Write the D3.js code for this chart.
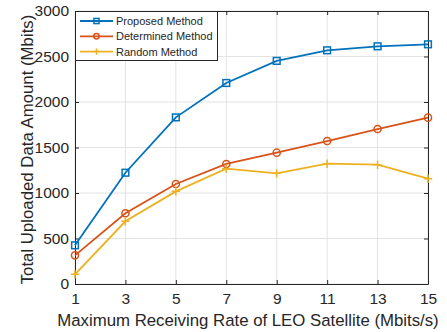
<!DOCTYPE html>
<html>
<head>
	<style>
		body { margin: 0; background: white; }
		svg text { font-family: "Liberation Sans", Arial, sans-serif; fill: #262626; }
	</style>
	<script src="https://d3js.org/d3.v7.min.js"></script>
</head>
<body>
	<svg id="chart" width="447" height="332"></svg>
<script>
// data
var rates = [1, 3, 5, 7, 9, 11, 13, 15];
var proposed = [425, 1223, 1831, 2209, 2452, 2568, 2612, 2634];
var determined = [315, 777, 1099, 1319, 1443, 1571, 1703, 1828];
var random = [106, 689, 1018, 1267, 1216, 1322, 1311, 1157];
var yTicks = [0, 500, 1000, 1500, 2000, 2500, 3000];
var seriesNames = ["Proposed Method", "Determined Method", "Random Method"];

var svg = d3.select("svg#chart");
let margin = { top: 11, right: 19, bottom: 48, left: 75 };
let w = 447 - margin.left - margin.right;
let h = 332 - margin.top - margin.bottom;

let x = d3.scaleLinear().domain([1, 15]).range([0, w]);
let y = d3.scaleLinear().domain([0, 3000]).range([h, 0]);

let g = svg.append("g").attr("transform", "translate(" + margin.left + "," + margin.top + ")");

// grid
g.selectAll(".vgrid").data(rates).enter().append("line")
	.attr("x1", d => x(d)).attr("x2", d => x(d))
	.attr("y1", 0).attr("y2", h)
	.style("stroke", "#e3e3e3").style("stroke-width", 1);
g.selectAll(".hgrid").data(yTicks).enter().append("line")
	.attr("x1", 0).attr("x2", w)
	.attr("y1", d => y(d)).attr("y2", d => y(d))
	.style("stroke", "#e3e3e3").style("stroke-width", 1);

// axes, ticks pointing inward
let fmt = d3.format("d");
let xAxis = g.append("g").attr("transform", "translate(0," + h + ")")
	.call(d3.axisBottom(x).tickValues(rates).tickFormat(fmt).tickSizeInner(-4).tickSizeOuter(0).tickPadding(9));
let xTop = g.append("g")
	.call(d3.axisTop(x).tickValues(rates).tickSizeInner(-4).tickSizeOuter(0).tickFormat(""));
let yAxis = g.append("g")
	.call(d3.axisLeft(y).tickValues(yTicks).tickFormat(fmt).tickSizeInner(-4).tickSizeOuter(0).tickPadding(6));
let yRight = g.append("g").attr("transform", "translate(" + w + ",0)")
	.call(d3.axisRight(y).tickValues(yTicks).tickSizeInner(-4).tickSizeOuter(0).tickFormat(""));

[xAxis, xTop, yAxis, yRight].forEach(function(a) {
	a.selectAll("path").style("stroke", "#262626").style("stroke-width", 1);
	a.selectAll("line").style("stroke", "#262626");
	a.selectAll("text").style("font-size", "15.5px").style("fill", "#262626")
		.style("font-family", "Liberation Sans, Arial, sans-serif");
});

// axis labels
svg.append("text")
	.attr("x", 248).attr("y", 326)
	.attr("text-anchor", "middle")
	.style("font-size", "16.8px")
	.text("Maximum Receiving Rate of LEO Satellite (Mbits/s)");
svg.append("text")
	.attr("transform", "translate(33," + (margin.top + h / 2 + 2) + ") rotate(-90)")
	.attr("text-anchor", "middle")
	.style("font-size", "16.8px")
	.text("Total Uploaded Data Amount (Mbits)");

let colors = ["#0072BD", "#D95319", "#EDB120"];
let allSeries = [proposed, determined, random];
let line = d3.line().x((d, i) => x(rates[i])).y(d => y(d));

function drawMarker(sel, k, cx, cy, s) {
	if (k === 0) {
		sel.append("rect").attr("x", cx - s * 0.8).attr("y", cy - s * 0.8).attr("width", s * 1.6).attr("height", s * 1.6)
			.style("fill", "none").style("stroke", colors[k]).style("stroke-width", 1.5);
	} else if (k === 1) {
		sel.append("circle").attr("cx", cx).attr("cy", cy).attr("r", s * 0.85)
			.style("fill", "none").style("stroke", colors[k]).style("stroke-width", 1.5);
	} else {
		sel.append("path").attr("d", "M" + (cx - s) + "," + cy + "H" + (cx + s) + "M" + cx + "," + (cy - s) + "V" + (cy + s))
			.style("stroke", colors[k]).style("stroke-width", 1.5);
	}
}

allSeries.forEach(function(s, k) {
	g.append("path").datum(s)
		.attr("d", line)
		.style("fill", "none").style("stroke", colors[k]).style("stroke-width", 1.8);
	s.forEach(function(v, i) { drawMarker(g, k, x(rates[i]), y(v), 4.2); });
});

// legend
let legend = g.append("g");
legend.append("rect").attr("x", 0.5).attr("y", 0.5).attr("width", 142).attr("height", 49)
	.style("fill", "white").style("stroke", "#262626").style("stroke-width", 1);
seriesNames.forEach(function(name, k) {
	let ly = 10 + k * 15.3;
	legend.append("line").attr("x1", 5).attr("x2", 38).attr("y1", ly).attr("y2", ly)
		.style("stroke", colors[k]).style("stroke-width", 1.8);
	drawMarker(legend, k, 21.5, ly, 3.2);
	legend.append("text").attr("x", 41).attr("y", ly + 4)
		.style("font-size", "11px").text(name);
});
</script>
</body>
</html>
